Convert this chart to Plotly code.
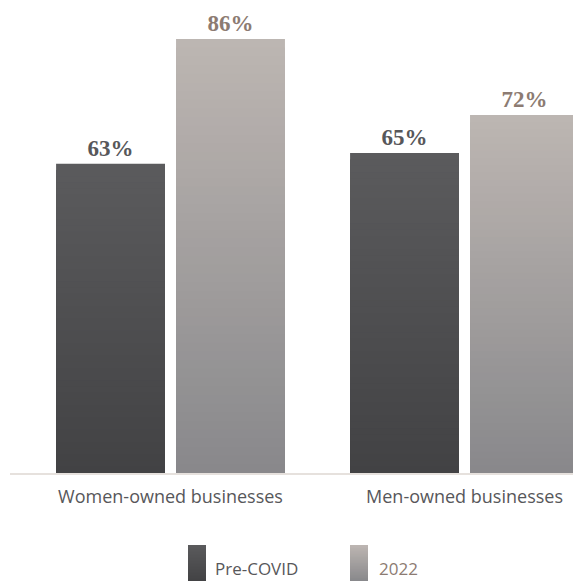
import plotly.graph_objects as go

# ---- data ----
categories = ["Women-owned businesses", "Men-owned businesses"]
pre_covid = [63, 65]
y2022 = [86, 72]
series_names = ["Pre-COVID", "2022"]

# ---- style ----
W, H = 573, 581
L, R, T, B = 10, 573, 0, 473
Y_MIN, Y_MAX = 6.0, 93.2
N = 50

styles = {
    "Pre-COVID": dict(top="#5b5b5d", bot="#424244", text="#57575a"),
    "2022": dict(top="#bdb6b2", bot="#88888b", text="#8c7b72"),
}


def hex2rgb(h):
    h = h.lstrip("#")
    return [int(h[i:i + 2], 16) for i in (0, 2, 4)]


def lerp(c_bot, c_top, t):
    a, b = hex2rgb(c_bot), hex2rgb(c_top)
    return "rgb({},{},{})".format(*[round(a[i] + (b[i] - a[i]) * t) for i in range(3)])


def px2paper_x(px):
    return (px - L) / (R - L)


def px2paper_y(py):
    return (B - py) / (B - T)


fig = go.Figure()

for name, vals in zip(series_names, [pre_covid, y2022]):
    st = styles[name]
    for k in range(N):
        frac = 1 - k / N
        mid = 1 - (k + 0.5) / N
        heights = [Y_MIN + (v - Y_MIN) * frac for v in vals]
        kw = {}
        if k == 0:
            kw = dict(
                text=[f"{v}%" for v in vals],
                textposition="outside",
                textfont=dict(family="Liberation Serif", size=23, color=st["text"], weight="bold"),
                cliponaxis=False,
            )
        fig.add_bar(
            x=categories,
            y=heights,
            name=name,
            offsetgroup=name,
            marker=dict(color=lerp(st["bot"], st["top"], mid), line=dict(width=0)),
            showlegend=False,
            hoverinfo="skip",
            **kw,
        )

# ---- custom legend (tall gradient swatches) ----
legend_items = [
    ("Pre-COVID", 188, 206, 213),
    ("2022", 350, 368, 377),
]
sw_top, sw_bot = 545, 581
M = 24
for name, x0, x1, tx in legend_items:
    st = styles[name]
    for j in range(M):
        ya = sw_top + (sw_bot - sw_top) * j / M
        yb = sw_top + (sw_bot - sw_top) * (j + 1) / M + 0.5
        t = 1 - (j + 0.5) / M
        fig.add_shape(
            type="rect", xref="paper", yref="paper",
            x0=px2paper_x(x0), x1=px2paper_x(x1),
            y0=px2paper_y(yb), y1=px2paper_y(ya),
            fillcolor=lerp(st["bot"], st["top"], t), line=dict(width=0),
            layer="above",
        )
    fig.add_annotation(
        text=name, xref="paper", yref="paper",
        x=px2paper_x(tx), y=px2paper_y(568),
        xanchor="left", yanchor="middle", showarrow=False,
        font=dict(family="Open Sans", size=17,
                  color="#57575a" if name == "Pre-COVID" else "#8c7b72"),
    )

fig.update_layout(
    width=W, height=H, autosize=False,
    margin=dict(l=L, r=W - R, t=T, b=H - B),
    paper_bgcolor="white", plot_bgcolor="white",
    barmode="group", bargap=0.184, bargroupgap=0.092,
    showlegend=False,
    xaxis=dict(
        range=[-0.546, 1.369], showline=True, linecolor="#e6e1dd", linewidth=2,
        ticks="", showgrid=False, zeroline=False, ticklabelstandoff=6,
        tickfont=dict(family="Open Sans", size=18, color="#57575a"),
    ),
    yaxis=dict(range=[Y_MIN, Y_MAX], visible=False, showgrid=False, zeroline=False),
)

fig.write_html("out.html")
